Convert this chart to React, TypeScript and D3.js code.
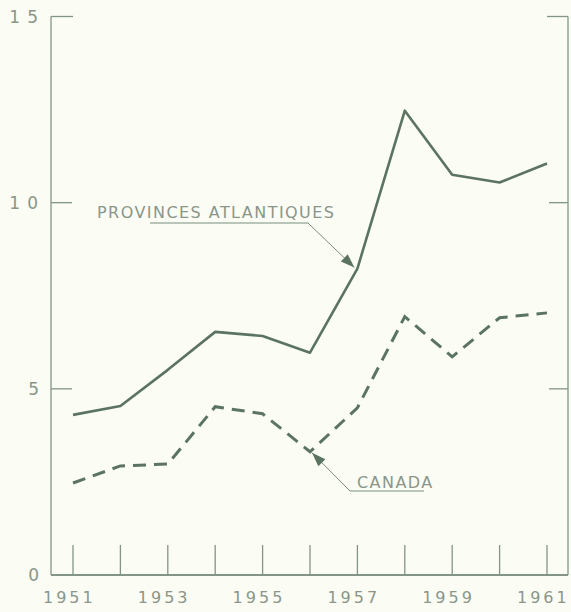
import React from "react";
import * as d3 from "d3";

const years = [1951, 1952, 1953, 1954, 1955, 1956, 1957, 1958, 1959, 1960, 1961];
const atlantic = [4.3, 4.54, 5.51, 6.53, 6.42, 5.97, 8.23, 12.47, 10.75, 10.54, 11.05];
const canada = [2.47, 2.93, 2.98, 4.52, 4.33, 3.31, 4.49, 6.94, 5.86, 6.91, 7.04];
const yTicks = [0, 5, 10, 15];
const xLabelYears = [1951, 1953, 1955, 1957, 1959, 1961];
const atlanticLabel = "PROVINCES ATLANTIQUES";
const canadaLabel = "CANADA";

const W = 571;
const H = 612;
const INK = "#5b7361";
const TEXT = "#8a968a";
const BG = "#fbfcf4";

export default function App() {
  const x = d3.scaleLinear().domain([1951, 1961]).range([73, 547]);
  const y = d3.scaleLinear().domain([0, 15]).range([575, 16.5]);
  const axL = 51;
  const axR = 568;
  const line = d3
    .line<number>()
    .x((_, i) => x(years[i]))
    .y((d) => y(d));

  const paTip = [x(1957) - 3, y(atlantic[6]) - 1];
  const caTip = [x(1956) + 2, y(canada[5]) + 1];

  const arrowHead = (tip: number[], from: number[], len = 14, w = 5) => {
    const dx = tip[0] - from[0];
    const dy = tip[1] - from[1];
    const L = Math.hypot(dx, dy);
    const ux = dx / L, uy = dy / L;
    const bx = tip[0] - ux * len, by = tip[1] - uy * len;
    const px = -uy * w, py = ux * w;
    return `M${tip[0]},${tip[1]}L${bx + px},${by + py}L${bx - px},${by - py}Z`;
  };

  const paUnderStart = [150, 223];
  const paUnderEnd = [308, 223];
  const caUnderStart = [350, 491];
  const caUnderEnd = [424, 491];

  return (
    <svg
      width={W}
      height={H}
      style={{ position: "absolute", left: 0, top: 0, background: BG }}
      fontFamily="'DejaVu Sans', sans-serif"
    >
      <rect x={0} y={0} width={W} height={H} fill={BG} />
      <g stroke={INK} strokeWidth={1.3} fill="none" opacity={0.75}>
        <line x1={axL} y1={y(15)} x2={axL} y2={y(0)} />
        <line x1={axL} y1={y(15)} x2={x(1951)} y2={y(15)} />
        <line x1={axR} y1={y(15)} x2={axR} y2={y(0)} />
        <line x1={x(1961)} y1={y(15)} x2={axR} y2={y(15)} />
        <line x1={axL} y1={y(0)} x2={axR} y2={y(0)} strokeWidth={1.8} />
        {yTicks
          .filter((t) => t > 0 && t < 15)
          .map((t) => (
            <g key={t}>
              <line x1={axL} y1={y(t)} x2={axL + 21} y2={y(t)} />
              <line x1={axR - 19} y1={y(t)} x2={axR} y2={y(t)} />
            </g>
          ))}
        {years.map((yr) => (
          <line key={yr} x1={x(yr)} y1={y(0)} x2={x(yr)} y2={y(0) - 30} />
        ))}
      </g>
      <g fill={TEXT} fontSize={17} textAnchor="end">
        {yTicks.map((t) => (
          <text key={t} x={t >= 10 ? 45 : 39} y={y(t) + 6} letterSpacing={t >= 10 ? 7 : 0}>
            {t}
          </text>
        ))}
      </g>
      <g fill={TEXT} fontSize={16} textAnchor="start">
        {xLabelYears.map((yr) => (
          <text key={yr} x={x(yr) - 30} y={603} letterSpacing={3}>
            {yr}
          </text>
        ))}
      </g>
      <path d={line(atlantic) || ""} fill="none" stroke={INK} strokeWidth={2.6} strokeLinejoin="round" />
      <path
        d={line(canada) || ""}
        fill="none"
        stroke={INK}
        strokeWidth={3}
        strokeDasharray="13 8"
      />
      <g fill={TEXT} fontSize={16} letterSpacing={1.45}>
        <text x={97} y={218}>{atlanticLabel}</text>
        <text x={357} y={488}>{canadaLabel}</text>
      </g>
      <g stroke={INK} strokeWidth={1} fill="none" opacity={0.8}>
        <polyline
          points={`${paUnderStart[0]},${paUnderStart[1]} ${paUnderEnd[0]},${paUnderEnd[1]} ${paTip[0]},${paTip[1]}`}
        />
        <polyline
          points={`${caUnderEnd[0]},${caUnderEnd[1]} ${caUnderStart[0]},${caUnderStart[1]} ${caTip[0]},${caTip[1]}`}
        />
      </g>
      <path d={arrowHead(paTip, paUnderEnd)} fill={INK} />
      <path d={arrowHead(caTip, caUnderStart)} fill={INK} />
    </svg>
  );
}
